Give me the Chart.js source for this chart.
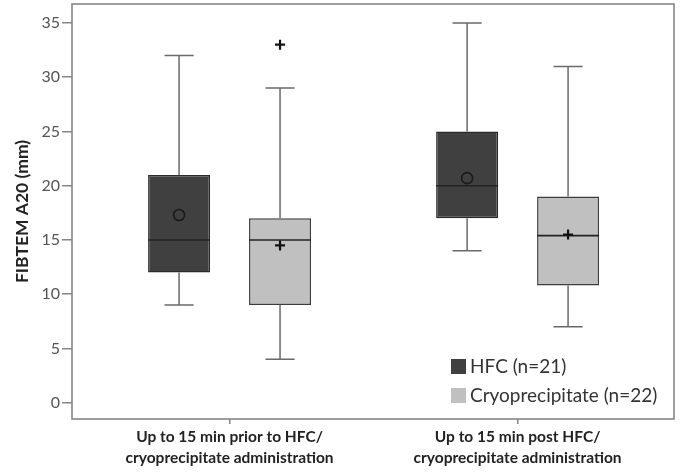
<!DOCTYPE html>
<html>
<head>
<meta charset="utf-8">
<script src="https://cdn.jsdelivr.net/npm/chart.js@4/dist/chart.umd.min.js"></script>
<style>
  html, body { margin: 0; padding: 0; background: #fff; }
</style>
</head>
<body>
<canvas id="MiGrafica" width="685" height="474"></canvas>
<script>

// datos (FIBTEM A20, mm)
var categorias = [
    ['Up to 15 min prior to HFC/', 'cryoprecipitate administration'],
    ['Up to 15 min post HFC/', 'cryoprecipitate administration']
];

var hfcMin = [9, 14];
var hfcQ1 = [12, 17];
var hfcMediana = [15, 20];
var hfcQ3 = [21, 25];
var hfcMax = [32, 35];
var hfcMedia = [17.3, 20.7];
var hfcAtipicos = [[], []];

var crioMin = [4, 7];
var crioQ1 = [9, 10.8];
var crioMediana = [15, 15.4];
var crioQ3 = [17, 19];
var crioMax = [29, 31];
var crioMedia = [14.5, 15.5];
var crioAtipicos = [[33], []];

var yTicks = [0, 5, 10, 15, 20, 25, 30, 35];
var yMin = -1.5, yMax = 36.75;
var xMin = -0.547, xMax = 1.543;

var series = [
    { label: 'HFC (n=21)', min: hfcMin, q1: hfcQ1, med: hfcMediana, q3: hfcQ3, max: hfcMax,
      media: hfcMedia, atipicos: hfcAtipicos, marca: 'circulo', relleno: '#404040', borde: '#2b2b2b' },
    { label: 'Cryoprecipitate (n=22)', min: crioMin, q1: crioQ1, med: crioMediana, q3: crioQ3, max: crioMax,
      media: crioMedia, atipicos: crioAtipicos, marca: 'cruz', relleno: '#c0c0c0', borde: '#3c3c3c' }
];

var fuente = 'Lato, "Open Sans", sans-serif';

function cruz(ctx, x, y) {
    ctx.save();
    ctx.strokeStyle = '#111';
    ctx.lineWidth = 2.2;
    ctx.beginPath();
    ctx.moveTo(x - 5, y); ctx.lineTo(x + 5, y);
    ctx.moveTo(x, y - 5); ctx.lineTo(x, y + 5);
    ctx.stroke();
    ctx.restore();
}

function circulo(ctx, x, y) {
    ctx.save();
    ctx.strokeStyle = '#1a1a1a';
    ctx.lineWidth = 1.6;
    ctx.beginPath();
    ctx.arc(x, y, 5.5, 0, Math.PI * 2);
    ctx.stroke();
    ctx.restore();
}

// bigotes, medianas, medias y atipicos
var cajas = {
    id: 'cajas',
    afterDatasetsDraw: function (chart) {
        var ctx = chart.ctx;
        var y = chart.scales.y;
        series.forEach(function (s, d) {
            var meta = chart.getDatasetMeta(d);
            meta.data.forEach(function (bar, i) {
                var x = bar.x;
                var mitad = bar.width / 2;
                var tapa = bar.width * 0.235;
                var pMax = y.getPixelForValue(s.max[i]);
                var pMin = y.getPixelForValue(s.min[i]);
                ctx.save();
                ctx.strokeStyle = '#6a6a6a';
                ctx.lineWidth = 1.5;
                ctx.beginPath();
                ctx.moveTo(x, y.getPixelForValue(s.q3[i])); ctx.lineTo(x, pMax);
                ctx.moveTo(x, y.getPixelForValue(s.q1[i])); ctx.lineTo(x, pMin);
                ctx.moveTo(x - tapa, pMax); ctx.lineTo(x + tapa, pMax);
                ctx.moveTo(x - tapa, pMin); ctx.lineTo(x + tapa, pMin);
                ctx.stroke();

                var pMed = y.getPixelForValue(s.med[i]);
                ctx.strokeStyle = '#222';
                ctx.lineWidth = 1.6;
                ctx.beginPath();
                ctx.moveTo(x - mitad, pMed); ctx.lineTo(x + mitad, pMed);
                ctx.stroke();
                ctx.restore();

                var pMedia = y.getPixelForValue(s.media[i]);
                if (s.marca === 'circulo') circulo(ctx, x, pMedia);
                else cruz(ctx, x, pMedia);

                s.atipicos[i].forEach(function (v) {
                    cruz(ctx, x, y.getPixelForValue(v));
                });
            });
        });
    },
    afterDraw: function (chart) {
        var ctx = chart.ctx;
        var a = chart.chartArea;
        ctx.save();
        ctx.strokeStyle = '#858585';
        ctx.lineWidth = 1.6;
        ctx.strokeRect(a.left, a.top, a.right - a.left, a.bottom - a.top);

        // leyenda dentro del area
        var lx = a.right - 223, ly = a.bottom - 60;
        ctx.font = '19px ' + fuente;
        ctx.textBaseline = 'middle';
        series.forEach(function (s, k) {
            var yy = ly + k * 29;
            ctx.fillStyle = s.relleno;
            ctx.fillRect(lx, yy, 15, 15);
            ctx.fillStyle = '#333';
            ctx.fillText(s.label, lx + 19, yy + 8);
        });
        ctx.restore();
    }
};

var ctx = document.getElementById('MiGrafica').getContext('2d');
var myChart = new Chart(ctx, {
    type: 'bar',
    data: {
        datasets: series.map(function (s) {
            return {
                label: s.label,
                data: s.q1.map(function (q, i) { return { x: i, y: [q, s.q3[i]] }; }),
                backgroundColor: s.relleno,
                borderColor: s.borde,
                borderWidth: 1.5,
                borderSkipped: false,
                categoryPercentage: 0.701,
                barPercentage: 0.614
            };
        })
    },
    options: {
        responsive: false,
        animation: false,
        layout: { padding: { top: 4, right: 11, left: 0, bottom: 0 } },
        plugins: {
            legend: { display: false },
            tooltip: { enabled: false }
        },
        scales: {
            x: {
                type: 'linear',
                min: xMin,
                max: xMax,
                offset: false,
                afterBuildTicks: function (scale) {
                    scale.ticks = categorias.map(function (c, i) { return { value: i }; });
                },
                afterFit: function (scale) {
                    scale.height = 55;
                    scale.paddingLeft = 0;
                    scale.paddingRight = 0;
                },
                border: { display: false },
                grid: { offset: false, drawOnChartArea: false, drawTicks: true, tickLength: 5, color: '#858585', lineWidth: 1.5 },
                ticks: {
                    autoSkip: false,
                    maxRotation: 0,
                    padding: 3,
                    color: '#222',
                    font: { family: fuente, size: 15.5, weight: 'bold', lineHeight: 1.32 },
                    callback: function (v) { return categorias[v]; }
                }
            },
            y: {
                min: yMin,
                max: yMax,
                afterBuildTicks: function (scale) {
                    scale.ticks = yTicks.map(function (v) { return { value: v }; });
                },
                afterFit: function (scale) {
                    scale.width = 72;
                    scale.paddingTop = 0;
                    scale.paddingBottom = 0;
                },
                border: { display: false },
                grid: { drawOnChartArea: false, drawTicks: true, tickLength: 10, color: '#858585', lineWidth: 1.5 },
                ticks: {
                    padding: 2,
                    color: '#555',
                    font: { family: fuente, size: 16 }
                },
                title: {
                    display: true,
                    text: 'FIBTEM A20 (mm)',
                    color: '#222',
                    padding: { top: 12, bottom: 0 },
                    font: { family: fuente, size: 17.5, weight: 'bold' }
                }
            }
        }
    },
    plugins: [cajas]
});

</script>
</body>
</html>
